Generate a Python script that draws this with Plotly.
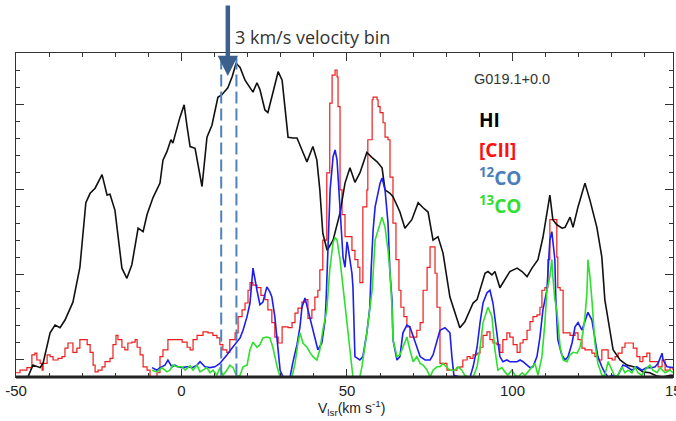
import plotly.graph_objects as go

# ---------------- data (velocity km/s, intensity arbitrary units) ----------------
hi_v = [-50, -46.4, -44.9, -42.7, -41.8, -39.7, -38.2, -36.7, -35.2, -32.8, -30.7, -28.9, -27.6, -26.1,
        -24.0, -22.5, -21.6, -20.1, -18.0, -16.5, -15.0, -13.1, -11.6, -10.4, -8.6, -6.5, -5.6, -4.4,
        -3.2, -2.6, -0.5, 0.8, 1.7, 2.6, 4.1, 5.6, 6.2, 7.7, 9.2, 11.0, 12.2, 14.0, 15.3, 16.5, 17.7,
        19.2, 20.7, 21.6, 22.8, 23.7, 25.2, 26.1, 27.6, 29.2, 30.4, 31.3, 32.2, 33.7, 34.9, 36.4, 37.9,
        39.7, 40.9, 41.8, 42.7, 44.0, 45.8, 47.9, 49.4, 50.9, 52.4, 53.9, 56.0, 57.6, 59.1, 60.6, 61.5,
        63.0, 63.9, 66.0, 67.5, 69.6, 71.5, 73.0, 74.5, 76.0, 77.5, 79.0, 81.1, 84.1, 85.6, 88.1, 89.3,
        91.7, 92.6, 93.8, 94.7, 96.2, 97.7, 99.2, 101.4, 102.9, 104.4, 105.9, 107.7, 109.2, 111.3, 112.2,
        113.4, 115.0, 115.9, 117.4, 118.3, 119.8, 121.9, 123.4, 125.5, 127.0, 127.9, 128.9, 130.4, 132.5,
        134.6, 137.6, 139.4, 141.5, 143.7, 145.5, 147.6, 149.0]
hi_t = [-2.5, -2.0, -0.6, -0.9, -0.35, 3.2, 4.1, 3.8, 4.7, 6.8, 10.9, 18.5, 19.6, 20.2,
        21.8, 19.4, 19.5, 17.6, 10.8, 9.6, 11.2, 15.5, 15.1, 17.1, 19.1, 20.8, 23.5, 24.5,
        25.9, 25.5, 28.5, 30.0, 27.4, 25.1, 24.9, 21.4, 20.4, 26.2, 27.6, 30.9, 31.2, 32.0, 33.3, 34.9, 34.4,
        32.9, 32.0, 31.5, 32.6, 31.8, 29.4, 29.1, 31.4, 33.9, 32.9, 29.4, 26.2, 26.1, 26.1, 24.7, 23.3,
        25.1, 23.5, 20.0, 14.9, 12.9, 14.1, 17.3, 20.8, 22.6, 20.9, 22.0, 24.4, 23.8, 23.3, 22.6, 20.0,
        19.6, 19.2, 17.4, 15.5, 16.5, 18.5, 17.9, 17.4, 14.1, 14.5, 12.6, 7.4, 3.8, 4.5, 6.7, 7.1,
        10.2, 10.4, 10.0, 10.4, 8.5, 9.4, 10.4, 10.8, 10.4, 9.8, 10.8, 11.8, 14.4, 19.4, 16.5,
        15.9, 15.5, 15.6, 16.8, 15.6, 18.0, 20.8, 18.8, 15.6, 12.1, 7.1, 4.7, 1.2, 0.0,
        -0.6, -0.9, -1.4, -1.5, -1.9, -2.0, -1.8, -1.8]

cii_v = [-50, -49.7, -48.8, -46.7, -45.2, -44.3, -43.7, -42.7, -42.1, -41.8, -40.6, -39.7, -38.8, -37.3,
         -36.1, -35.2, -34.3, -33.1, -32.8, -31.6, -30.7, -29.8, -28.5, -27.6, -26.7, -26.1, -25.2, -24.0,
         -23.1, -21.6, -20.7, -19.8, -19.2, -18.0, -17.1, -16.2, -15.0, -14.0, -13.4, -12.5, -11.6, -10.4,
         -9.5, -8.6, -7.4, -6.5, -5.6, -4.1, -2.6, -1.4, 0.2, 1.7, 2.6, 3.5, 4.7, 6.5, 8.0, 9.5, 10.7,
         11.6, 12.5, 13.7, 14.6, 16.2, 17.1, 18.3, 19.2, 20.1, 20.7, 21.6, 22.8, 24.0, 25.2, 26.1, 27.3,
         28.2, 29.2, 30.4, 31.3, 32.2, 33.4, 34.3, 35.2, 36.4, 37.3, 38.2, 39.4, 40.3, 41.2, 41.8, 42.7,
         43.9, 44.8, 45.5, 46.4, 47.0, 47.3, 47.9, 48.5, 49.4, 50.3, 51.5, 52.4, 53.3, 53.9, 54.8, 56.0,
         56.3, 57.6, 57.9, 59.1, 59.4, 60.0, 60.9, 61.5, 62.4, 63.0, 63.9, 64.8, 65.7, 66.3, 67.2, 68.1,
         69.0, 70.0, 71.1, 72.1, 73.0, 74.2, 75.1, 76.0, 76.6, 77.2, 78.1, 79.0, 80.2, 82.0, 83.2, 84.1,
         85.0, 86.3, 87.2, 88.1, 89.3, 90.2, 91.1, 92.3, 93.2, 94.1, 95.3, 96.2, 97.1, 98.3, 99.2, 100.2,
         101.4, 102.3, 103.2, 104.4, 105.3, 106.2, 107.4, 108.3, 108.9, 109.8, 110.7, 111.3, 112.2, 112.8,
         113.4, 113.7, 114.4, 115.3, 116.5, 117.4, 118.9, 119.8, 121.0, 121.9, 122.8, 124.0, 124.9, 125.8,
         127.0, 127.9, 128.9, 130.1, 131.0, 131.9, 133.1, 134.0, 135.5, 136.5, 137.6, 138.5, 139.4, 140.6,
         141.5, 143.1, 144.0, 145.2, 146.1, 147.6, 148.5]
cii_t = [-1.5, -1.5, -1.2, -0.9, 0.6, 0.8, 0.0, -0.4, -1.2, -0.4, 0.6, 0.4, 0.0, 0.2,
         0.4, 1.4, 2.0, 2.0, 0.9, 1.4, 2.4, 2.4, 1.8, 0.9, -0.6, -1.4, -1.2, -0.8,
         -0.2, 0.2, 1.8, 2.9, 2.4, 1.5, 1.2, 2.0, 2.1, 2.4, 1.5, 0.6, -0.8, -1.2,
         -2.0, -2.0, -1.5, 0.4, 1.2, 2.4, 2.4, 2.4, 2.1, 1.5, 1.2, 2.4, 2.9, 3.3, 3.2, 2.9, 2.6,
         1.8, 1.2, 0.9, 2.4, 3.2, 5.1, 5.9, 6.7, 8.2, 9.1, 8.8, 8.5, 7.6, 7.1, 5.9, 4.4,
         2.7, 2.0, 3.9, 3.9, 3.8, 4.4, 5.5, 6.1, 6.8, 7.1, 4.9, 5.9, 7.4, 8.2, 10.6, 14.1,
         22.0, 30.2, 33.5, 34.1, 33.3, 29.8, 20.0, 17.1, 14.5, 14.5, 12.9, 11.8, 10.9, 9.1, 18.0, 20.0,
         25.9, 30.6, 30.9, 30.6, 29.8, 29.1, 27.9, 26.2, 25.9, 21.5, 16.1, 11.8, 8.2, 6.2, 5.1, 3.9,
         2.7, 2.7, 3.5, 4.4, 8.2, 10.9, 13.3, 13.3, 10.2, 6.2, -0.4, -0.4, -1.2, -1.2, -0.9, -0.8,
         0.0, 0.4, 0.2, 0.6, 0.8, 1.5, 2.9, 3.3, 2.4, 2.0, 1.8, 0.9, 2.4, 3.2, 2.7, 1.8,
         0.9, 2.0, 2.4, 3.5, 4.5, 5.1, 5.3, 6.2, 8.2, 8.5, 11.8, 16.5, 16.5, 16.5,
         12.1, 8.5, 8.2, 3.2, 3.2, 2.9, 3.2, 2.4, 1.4, 1.2, 1.2, 0.8, 0.4, 0.0,
         1.2, 1.2, 0.2, 0.0, 0.4, 0.8, 1.5, 2.0, 2.0, 1.4, 0.4, -0.2, 0.4, 0.8,
         -0.2, -0.2, -0.8, 0.0, -1.2, -0.9, -1.2]

co12_v = [-8.9, -7.4, -6.5, -5.0, -4.1, -2.9, -2.0, -1.1, 0.2, 1.7, 3.2, 4.7, 5.6, 7.1, 8.6, 10.1, 11.6,
          12.5, 13.7, 15.3, 16.8, 17.7, 18.6, 19.8, 20.7, 21.6, 22.8, 23.7, 24.6, 25.8, 26.7, 27.3, 28.2,
          28.9, 29.8, 30.7, 32.8, 33.7, 34.9, 35.8, 36.4, 37.3, 38.2, 39.4, 40.3, 41.2, 42.4, 43.4, 43.7,
          44.3, 44.9, 45.8, 46.4, 47.0, 47.9, 48.8, 49.4, 50.0, 50.3, 51.5, 51.8, 52.4, 53.9, 54.8, 56.0,
          56.9, 57.3, 57.9, 58.5, 60.0, 60.6, 61.5, 62.4, 63.0, 63.6, 63.9, 65.1, 66.0, 66.9, 68.1, 69.0,
          70.0, 71.1, 72.1, 73.6, 75.1, 76.0, 77.2, 78.1, 79.6, 81.1, 81.7, 82.3, 84.1, 87.2, 88.1, 89.3,
          90.2, 91.1, 92.3, 93.2, 94.1, 95.3, 96.2, 97.1, 98.3, 99.2, 100.2, 101.4, 102.3, 103.2, 104.4,
          105.3, 106.2, 107.4, 108.3, 109.2, 110.4, 111.3, 111.9, 112.8, 113.1, 113.7, 114.9, 115.9, 116.8,
          118.0, 118.9, 119.8, 121.0, 121.9, 122.8, 124.0, 124.9, 125.8, 127.0, 127.9, 128.9, 130.4, 131.6,
          132.5, 133.4, 134.6, 136.1, 137.6, 139.1, 140.6, 142.1, 143.1, 144.0, 145.2, 145.5, 146.7, 148.2,
          149.0]
co12_t = [-0.9, -1.2, -0.9, -0.6, 0.0, -0.8, -0.6, -0.8, -0.9, -0.8, -0.9, -0.6, -0.2, -0.8, -0.9, -0.8, -0.4,
          0.0, 0.6, 1.4, 2.1, 2.6, 3.5, 5.1, 6.7, 10.8, 8.2, 6.5, 6.8, 8.6, 8.0, 7.4, 5.1,
          2.4, -1.2, -2.0, -2.0, -0.2, 1.8, 3.9, 6.2, 7.3, 5.9, 3.9, 2.4, 1.2, 2.0, 4.7, 7.1,
          14.1, 20.0, 23.9, 24.7, 23.5, 17.3, 12.1, 10.9, 13.9, 13.3, 10.2, 8.6, 0.4, 0.0, 0.4, 3.2,
          6.2, 10.6, 15.3, 18.0, 20.8, 21.4, 20.0, 16.1, 10.2, 7.1, 2.4, 0.0, 0.4, 3.2, 4.1, 3.9,
          2.7, 1.5, 0.4, 0.0, 0.0, 0.6, 2.4, 3.5, 3.8, 3.2, 0.4, -1.8, -2.0, -2.0, -0.8, 1.5,
          4.4, 6.7, 7.9, 8.2, 6.7, 3.2, 0.4, -0.2, 0.0, -0.2, -0.2, -0.2, 0.0, -0.2, -0.6,
          -0.9, -0.8, 0.4, 2.7, 5.9, 8.2, 14.1, 15.1, 11.8, 7.1, 2.4, 0.6, 0.0, 0.4,
          2.0, 3.9, 4.4, 3.5, 4.7, 5.6, 4.7, 2.4, 0.4, -0.8, -1.5, -2.0, -1.8, -2.0,
          -1.2, -0.6, -0.8, -1.2, -0.8, -1.2, -0.9, -0.9, -0.8, -0.4, 0.8, 0.0, -0.8, -0.9,
          -0.9]

co13_v = [-8.9, -7.4, -5.9, -4.4, -3.5, -2.6, -1.4, 0.2, 1.1, 2.6, 3.5, 4.7, 5.6, 6.5, 7.7, 8.6, 9.5,
          10.7, 11.6, 12.5, 13.7, 14.6, 15.6, 16.8, 17.7, 18.6, 19.8, 20.7, 21.6, 22.8, 23.7, 24.6, 25.8,
          26.7, 27.6, 28.9, 29.8, 33.4, 34.3, 35.2, 35.8, 36.7, 37.9, 38.8, 39.7, 40.9, 41.8, 42.7, 43.9,
          44.8, 45.8, 46.4, 47.0, 47.9, 48.8, 50.0, 50.9, 51.8, 53.9, 54.5, 56.0, 56.9, 57.6, 58.5, 59.1,
          60.6, 61.5, 62.4, 63.0, 63.6, 63.9, 65.1, 66.0, 66.9, 68.1, 69.0, 70.0, 71.1, 72.1, 73.0, 74.2,
          75.1, 76.0, 77.2, 78.1, 79.0, 81.1, 82.6, 83.5, 84.7, 85.6, 86.6, 88.1, 89.3, 90.2, 91.1, 92.3,
          92.6, 93.8, 94.7, 95.6, 96.8, 97.7, 98.6, 99.8, 100.8, 101.7, 102.9, 103.8, 104.7, 105.9, 106.8,
          107.7, 108.9, 109.8, 110.4, 111.3, 111.9, 112.2, 112.8, 113.4, 114.4, 115.3, 116.5, 117.4, 118.3,
          119.5, 120.4, 121.3, 121.9, 122.5, 122.8, 123.4, 124.0, 124.9, 125.8, 127.0, 127.9, 128.9, 130.1,
          131.0, 131.9, 133.1, 134.0, 134.9, 136.1, 137.0, 137.9, 139.1, 140.0, 141.5, 142.4, 143.7, 144.6,
          146.1, 147.6, 148.5]
co13_t = [-1.2, -1.4, -0.9, -1.4, -1.2, -0.6, -0.8, -0.8, -1.2, -0.7, -1.2, -0.6, -1.4, -1.2, -0.9, -1.5, -1.2,
          -1.8, -0.9, -1.8, -1.2, -0.6, -0.9, -2.0, -1.8, -0.8, -0.6, 1.2, 2.1, 1.5, 1.8, 2.6, 2.7,
          2.6, 1.5, -0.8, -2.0, -2.0, -0.4, 2.0, 3.2, 2.0, 1.5, 0.9, 0.4, 0.0, 1.2, 3.5, 5.9,
          10.6, 13.8, 14.4, 14.1, 11.8, 8.6, 3.9, 0.4, -2.0, -2.0, -0.8, 3.2, 5.9, 8.2, 14.1, 14.9,
          16.8, 15.6, 12.9, 10.2, 6.2, 2.4, 0.4, 0.6, 1.5, 2.7, 1.2, -0.2, 0.4, -0.4, -0.6, -1.2,
          -2.0, -1.2, -0.8, -0.8, -0.4, -1.2, -1.2, -0.8, -1.2, -1.8, -2.0, -2.0, -0.8, 1.4, 4.4, 5.9,
          6.2, 5.1, 1.2, -1.2, -0.9, -1.4, -1.8, -1.2, -1.8, -2.0, -1.5, -1.8, -1.4, -0.8, -0.4,
          -1.8, 0.4, 4.4, 8.2, 9.8, 11.8, 9.8, 7.1, 5.9, 1.5, 0.0, -0.2, 0.6, 0.9,
          0.8, 1.5, 3.2, 5.1, 7.9, 11.8, 9.8, 7.1, 2.0, -0.4, -1.8, -1.8, -0.2, -1.2,
          -2.0, -1.8, -0.8, -1.5, -1.2, -1.5, -0.8, -1.5, -1.8, -1.2, -0.6, -1.2, -1.5, -0.9,
          -1.5, -1.2, -1.5]

bin_edges = [12.0, 16.6]          # dashed velocity-bin markers (km/s)
arrow_v = 14.0                    # arrow position (km/s)
x_ticks = [-50, 0, 50, 100]
x_ticktext = ["-50", "0", "50", "100"]
x_range = [-50, 148.5]
y_range = [-2, 36.1]

legend_items = [("<b>HI</b>", "#000000"), ("<b>[CII]</b>", "#ff1010"),
                ("<b><sup>12</sup>CO</b>", "#4a7ebb"), ("<b><sup>13</sup>CO</b>", "#33dd33")]

# ---------------- figure ----------------
fig = go.Figure()
fig.add_trace(go.Scatter(x=cii_v, y=cii_t, mode="lines", line=dict(color="#ee1c1c", width=1.2, shape="hv")))
fig.add_trace(go.Scatter(x=hi_v, y=hi_t, mode="lines", line=dict(color="#111111", width=1.6)))
fig.add_trace(go.Scatter(x=co12_v, y=co12_t, mode="lines", line=dict(color="#1e1eee", width=1.6)))
fig.add_trace(go.Scatter(x=co13_v, y=co13_t, mode="lines", line=dict(color="#2ee02e", width=1.6)))

for e in bin_edges:
    fig.add_shape(type="line", xref="x", yref="paper", x0=e, x1=e, y0=0.005, y1=0.99,
                  line=dict(color="#4f81bd", width=2, dash="12px,5px"))

# bottom baseline (thick)
fig.add_shape(type="line", xref="paper", yref="paper", x0=0, x1=1, y0=0, y1=0,
              line=dict(color="#222222", width=3))

# arrow
fig.add_annotation(x=arrow_v, y=0.929, xref="x", yref="paper", ax=0, ay=-72, axref="pixel", ayref="pixel",
                   showarrow=True, arrowhead=2, arrowsize=0.9, arrowwidth=4.5, arrowcolor="#3d5f8c", text="")

fig.add_annotation(x=0.330, y=1.049, xref="paper", yref="paper", text="3 km/s velocity bin", showarrow=False,
                   xanchor="left", yanchor="middle", font=dict(family="Open Sans", size=18, color="#333333"))
fig.add_annotation(x=0.755, y=0.920, xref="paper", yref="paper", text="G019.1+0.0", showarrow=False,
                   xanchor="center", yanchor="middle", font=dict(family="Liberation Sans", size=14.5, color="#333333"))

leg_y = [0.793, 0.701, 0.617, 0.531]
for (txt, col), yy in zip(legend_items, leg_y):
    fig.add_annotation(x=0.7017, y=yy, xref="paper", yref="paper", text=txt, showarrow=False,
                       xanchor="left", yanchor="middle", font=dict(family="Open Sans", size=19, color=col))

fig.add_annotation(x=(150 - x_range[0]) / (x_range[1] - x_range[0]), y=0, xref="paper", yref="paper",
                   text="150", showarrow=False, xanchor="center", yanchor="top", yshift=-3,
                   font=dict(family="Liberation Sans", size=15, color="#222222"))
fig.add_annotation(x=0.51, y=-0.096, xref="paper", yref="paper",
                   text="V<sub>lsr</sub>(km s<sup>-1</sup>)", showarrow=False, xanchor="center", yanchor="middle",
                   font=dict(family="Liberation Sans", size=14, color="#222222"))

axis_common = dict(showgrid=False, zeroline=False, showline=True, linecolor="#333333", linewidth=1.3,
                   mirror="ticks", ticks="inside", tickcolor="#333333", tickwidth=1.2, ticklen=8,
                   automargin=False)
fig.update_xaxes(range=x_range, tickvals=x_ticks, ticktext=x_ticktext,
                 tickfont=dict(family="Liberation Sans", size=15, color="#222222"),
                 minor=dict(dtick=10, tick0=0, ticks="inside", ticklen=4, tickcolor="#333333", tickwidth=1.2),
                 **axis_common)
fig.update_yaxes(range=y_range, dtick=10, tick0=0, showticklabels=False,
                 minor=dict(dtick=2, tick0=0, ticks="inside", ticklen=4, tickcolor="#333333", tickwidth=1.2),
                 **axis_common)

fig.update_layout(width=676, height=421, margin=dict(l=16, r=3, t=53, b=44, autoexpand=False),
                  plot_bgcolor="white", paper_bgcolor="white", showlegend=False)

fig.write_html("out.html", config={"displayModeBar": False},
               post_script="document.body.style.margin='0';document.body.style.padding='0';"
                           "document.body.style.overflow='hidden';")
